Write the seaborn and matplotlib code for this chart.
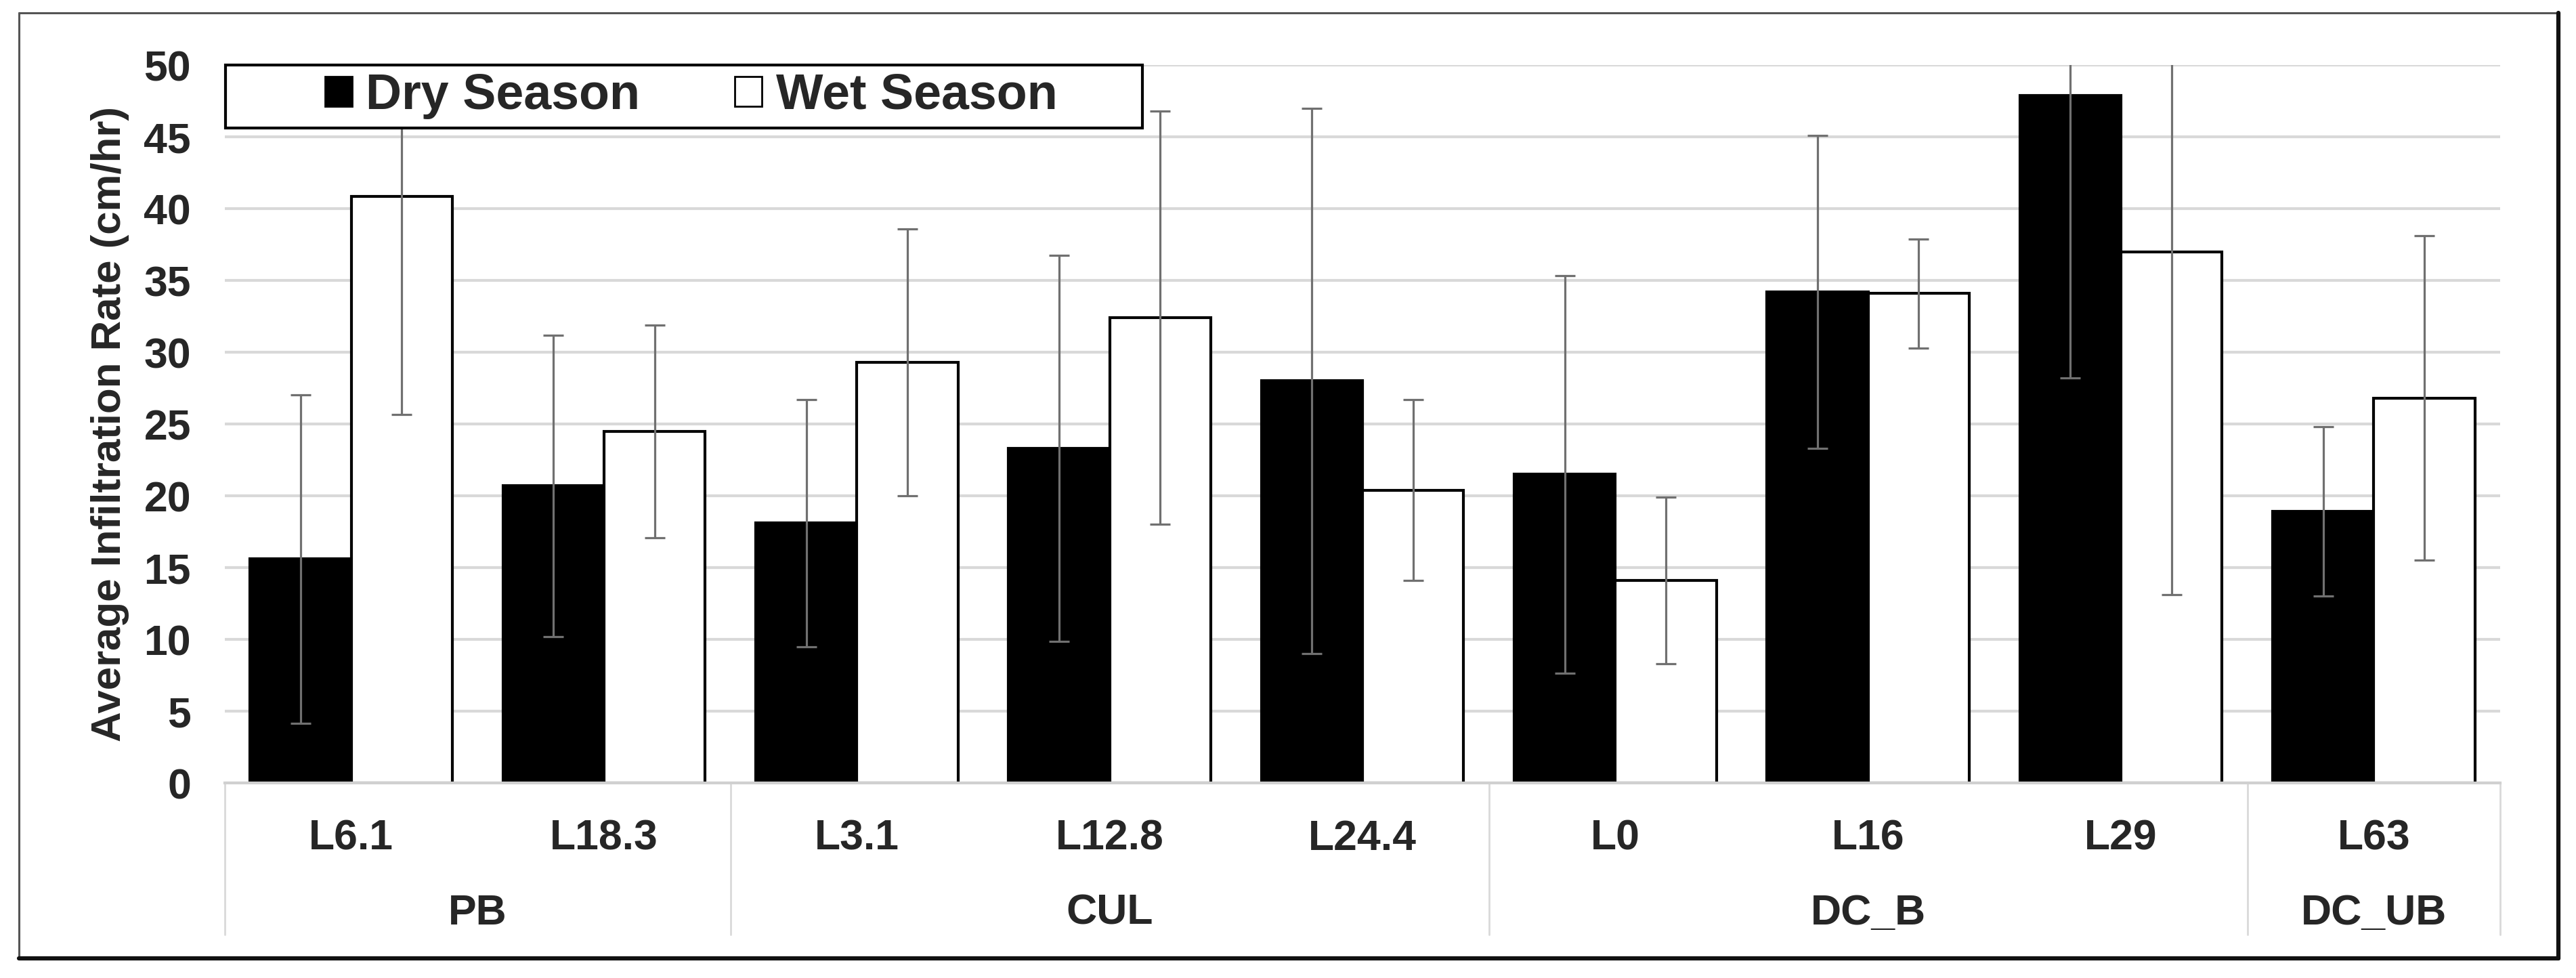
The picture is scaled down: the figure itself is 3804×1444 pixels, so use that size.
import numpy as np
import pandas as pd
import seaborn as sns
import matplotlib.pyplot as plt
import matplotlib.transforms as mtransforms
from matplotlib.patches import Patch, Rectangle
from matplotlib.lines import Line2D

# site labels, grouped by river reach
sites = ['L6.1', 'L18.3', 'L3.1', 'L12.8', 'L24.4', 'L0', 'L16', 'L29', 'L63']
groups = ['PB', 'CUL', 'DC_B', 'DC_UB']
group_sizes = [2, 3, 3, 1]
seasons = ['Dry Season', 'Wet Season']

# mean infiltration rate (cm/hr) and standard deviation
dry_mean = [15.6, 20.7, 18.1, 23.3, 28.0, 21.5, 34.2, 47.9, 18.9]
dry_sd = [11.45, 10.5, 8.6, 13.45, 19.0, 13.85, 10.9, 19.7, 5.9]
wet_mean = [40.85, 24.5, 29.3, 32.4, 20.4, 14.1, 34.1, 37.0, 26.8]
wet_sd = [15.2, 7.4, 9.3, 14.4, 6.3, 5.8, 3.8, 23.9, 11.3]

yticks = list(range(0, 55, 5))

sns.set_style('white')
plt.rcParams['font.family'] = ['Liberation Sans', 'DejaVu Sans']
plt.rcParams['font.weight'] = 'bold'
plt.rcParams['axes.labelweight'] = 'bold'

df = pd.DataFrame({
    'site': sites * 2,
    'season': [seasons[0]] * len(sites) + [seasons[1]] * len(sites),
    'rate': dry_mean + wet_mean,
})
sd_lookup = {seasons[0]: dry_sd, seasons[1]: wet_sd}
colors = {seasons[0]: 'black', seasons[1]: 'white'}

fig = plt.figure(figsize=(38.04, 14.44), dpi=100)
ax = fig.add_axes([0.0873, 0.1994, 0.8833, 0.7341])

sns.barplot(data=df, x='site', y='rate', hue='season', order=sites,
            hue_order=seasons, palette=colors, saturation=1,
            edgecolor='black', linewidth=3, errorbar=None, width=0.8,
            legend=False, ax=ax)

# error bars (mean +/- sd) on each bar
for season, cont in zip(seasons, ax.containers):
    xs = [b.get_x() + b.get_width() / 2 for b in cont]
    idx = [int(round(x)) for x in xs]
    ax.errorbar(xs, [b.get_height() for b in cont],
                yerr=[sd_lookup[season][i] for i in idx],
                fmt='none', ecolor='#707070', elinewidth=2.3,
                capsize=11, capthick=2.3, zorder=4)

ax.set_ylim(0, 50)
ax.set_xlim(-0.5, len(sites) - 0.5)
ax.set_yticks(yticks)
ax.set_axisbelow(True)
ax.yaxis.grid(True, color='#d9d9d9', linewidth=3)
ax.xaxis.grid(False)
for s in ['top', 'right', 'left']:
    ax.spines[s].set_visible(False)
ax.spines['bottom'].set_color('#d0d0d0')
ax.spines['bottom'].set_linewidth(3)

ax.tick_params(axis='y', length=0, pad=36, labelsize=45)
ax.tick_params(axis='x', length=0, pad=38, labelsize=45)
ax.set_xlabel('')
ax.set_ylabel('Average Infiltration Rate (cm/hr)', fontsize=44.5,
              fontweight='bold')
ax.yaxis.set_label_coords(-0.042, 0.5)

# second level of category labels + separators
trans = mtransforms.blended_transform_factory(ax.transData, ax.transAxes)
start = 0
for g, n in zip(groups, group_sizes):
    ax.text(start + (n - 1) / 2, -0.197, g, transform=trans, ha='center',
            va='baseline', fontsize=45, fontweight='bold')
    start += n
for b in np.cumsum([0] + group_sizes) - 0.5:
    ax.plot([b, b], [0, -0.211], transform=trans, color='#d9d9d9', lw=2,
            clip_on=False)

# legend in a boxed strip at top-left
ax.add_patch(Rectangle((0.0003, 0.9123), 0.403, 0.0877, transform=ax.transAxes,
                       facecolor='white', edgecolor='black', linewidth=3,
                       zorder=4.6, clip_on=False))
handles = [Patch(facecolor=colors[s], edgecolor='black', linewidth=2, label=s)
           for s in seasons]
ax.legend(handles=handles, loc='center', bbox_to_anchor=(0.205, 0.957),
          ncol=2, frameon=False, fontsize=53, handlelength=0.54,
          handleheight=0.54, handletextpad=0.28, columnspacing=1.9,
          prop={'size': 53, 'weight': 'bold'})

# outer frame of the picture
fig.add_artist(Line2D([0.0074, 0.9932], [0.9868, 0.9868], transform=fig.transFigure,
                      color='#555555', lw=2.2))
fig.add_artist(Line2D([0.0074, 0.0074], [0.0201, 0.9868], transform=fig.transFigure,
                      color='#555555', lw=2.2))
fig.add_artist(Line2D([0.9932, 0.9932], [0.0201, 0.9868], transform=fig.transFigure,
                      color='#111111', lw=4.5))
fig.add_artist(Line2D([0.0074, 0.9932], [0.0201, 0.0201], transform=fig.transFigure,
                      color='#111111', lw=4.5))

fig.savefig('out.png', dpi=100)
